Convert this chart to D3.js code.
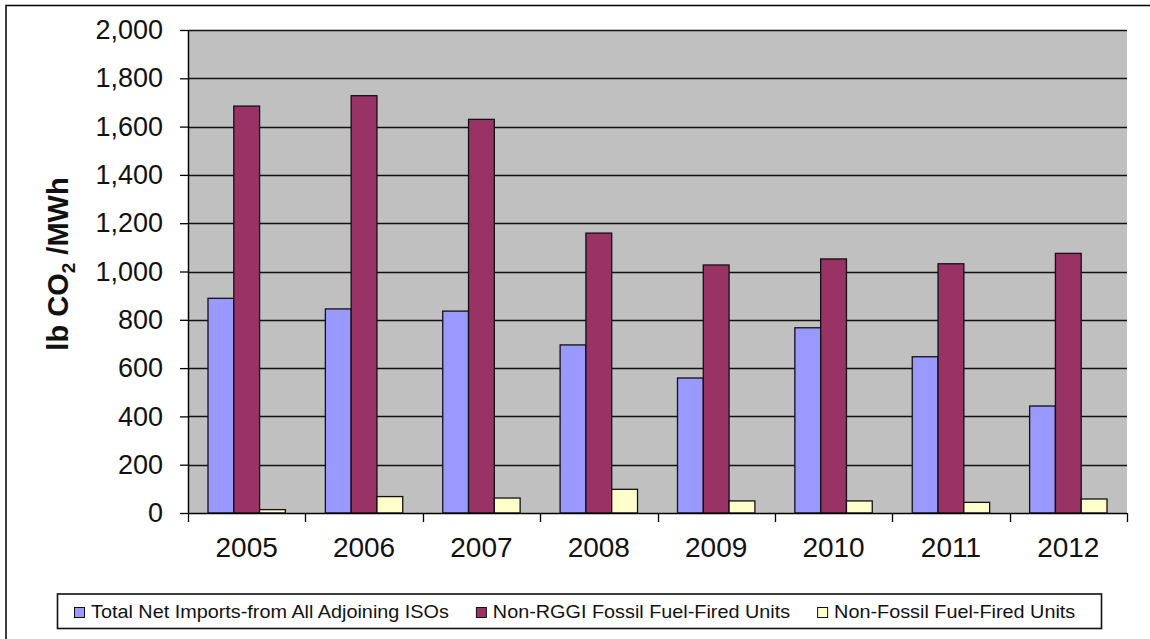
<!DOCTYPE html>
<html>
<head>
<meta charset="utf-8">
<script src="https://cdn.jsdelivr.net/npm/d3@7"></script>
<style>
  html, body { margin: 0; padding: 0; background: #fff; }
  svg { display: block; font-family: "Liberation Sans", Arial, sans-serif; }
</style>
</head>
<body>
<svg id="chart" width="1150" height="639"></svg>
<script>
// Emission rates by year (lb CO2 / MWh)
const years = ["2005", "2006", "2007", "2008", "2009", "2010", "2011", "2012"];
const seriesNames = [
  "Total Net Imports-from All Adjoining ISOs",
  "Non-RGGI Fossil Fuel-Fired Units",
  "Non-Fossil Fuel-Fired Units"
];
const netImports = [889, 845, 836, 696, 559, 767, 647, 443];
const nonRggiFossil = [1685, 1728, 1630, 1159, 1027, 1052, 1032, 1075];
const nonFossil = [14, 68, 62, 98, 50, 50, 44, 58];
const yTicks = [0, 200, 400, 600, 800, 1000, 1200, 1400, 1600, 1800, 2000];
const colors = ["#9999FF", "#993366", "#FFFFCC"];

const seriesValues = [netImports, nonRggiFossil, nonFossil];
const rows = years.map((yr, i) => ({
  year: yr,
  values: seriesNames.map((s, k) => ({ series: s, value: seriesValues[k][i], color: colors[k] }))
}));

const svg = d3.select("#chart");

// outer chart frame
svg.append("rect")
  .attr("x", 6).attr("y", 5.5)
  .attr("width", 1200).attr("height", 700)
  .attr("fill", "none").attr("stroke", "#000").attr("stroke-width", 1.5);

const plot = { left: 188, right: 1127, top: 30, bottom: 513 };

const x0 = d3.scaleBand().domain(years).range([plot.left, plot.right]).padding(0);
const x1 = d3.scaleBand().domain(seriesNames).range([0, x0.bandwidth()])
  .paddingInner(0).paddingOuter(0.775);
const y = d3.scaleLinear().domain([0, 2000]).range([plot.bottom, plot.top]);

// plot background
svg.append("rect")
  .attr("x", plot.left).attr("y", plot.top)
  .attr("width", plot.right - plot.left).attr("height", plot.bottom - plot.top)
  .attr("fill", "#C0C0C0");

// horizontal gridlines
svg.append("g").selectAll("line")
  .data(yTicks.filter(d => d > 0))
  .join("line")
  .attr("x1", plot.left).attr("x2", plot.right)
  .attr("y1", d => Math.round(y(d)) + 0.5).attr("y2", d => Math.round(y(d)) + 0.5)
  .attr("stroke", "#111").attr("stroke-width", 1.4);

// bars
const groups = svg.append("g").selectAll("g")
  .data(rows)
  .join("g")
  .attr("transform", d => `translate(${x0(d.year)},0)`);

groups.selectAll("rect")
  .data(d => d.values)
  .join("rect")
  .attr("x", d => x1(d.series))
  .attr("y", d => y(d.value))
  .attr("width", x1.bandwidth())
  .attr("height", d => y(0) - y(d.value))
  .attr("fill", d => d.color)
  .attr("stroke", "#111")
  .attr("stroke-width", 1.3);

// y axis
const yAxis = svg.append("g")
  .attr("transform", `translate(${plot.left},0)`)
  .call(d3.axisLeft(y).tickValues(yTicks).tickSize(8).tickPadding(17)
    .tickFormat(d3.format(",")));
yAxis.select(".domain").attr("stroke", "#000").attr("stroke-width", 1.5)
  .attr("d", `M0.5,${plot.top}V${plot.bottom}`);
yAxis.selectAll(".tick line").attr("stroke", "#000").attr("stroke-width", 1.3);
yAxis.selectAll(".tick text")
  .attr("font-size", 27).attr("fill", "#111")
  .attr("font-family", "'Liberation Sans', Arial, sans-serif");

// x axis: ticks between the year groups
svg.append("line")
  .attr("x1", plot.left).attr("x2", plot.right)
  .attr("y1", plot.bottom + 0.5).attr("y2", plot.bottom + 0.5)
  .attr("stroke", "#000").attr("stroke-width", 1.5);

const boundaries = years.map(yr => x0(yr)).concat([x0(years[years.length - 1]) + x0.bandwidth()]);
svg.append("g").selectAll("line")
  .data(boundaries)
  .join("line")
  .attr("x1", d => Math.round(d) + 0.5).attr("x2", d => Math.round(d) + 0.5)
  .attr("y1", plot.bottom).attr("y2", plot.bottom + 9)
  .attr("stroke", "#000").attr("stroke-width", 1.3);

svg.append("g").selectAll("text")
  .data(years)
  .join("text")
  .attr("x", d => x0(d) + x0.bandwidth() / 2)
  .attr("y", 557)
  .attr("text-anchor", "middle")
  .attr("font-size", 28)
  .attr("fill", "#111")
  .text(d => d);

// y axis title with subscript
const title = svg.append("text")
  .attr("transform", "translate(68,264) rotate(-90)")
  .attr("text-anchor", "middle")
  .attr("font-size", 29)
  .attr("font-weight", "bold")
  .attr("fill", "#111");
title.append("tspan").text("lb CO");
title.append("tspan").attr("font-size", 19).attr("dy", 7).text("2");
title.append("tspan").attr("dy", -7).text(" /MWh");

// legend
const legend = svg.append("g");
legend.append("rect")
  .attr("x", 57.5).attr("y", 594)
  .attr("width", 1044).attr("height", 34.5)
  .attr("fill", "#fff").attr("stroke", "#111").attr("stroke-width", 1.6);

let lx = 74;
const stretch = 1.12;
seriesNames.forEach((name, k) => {
  legend.append("rect")
    .attr("x", lx + 0.5).attr("y", 607.5)
    .attr("width", 10).attr("height", 10)
    .attr("fill", colors[k]).attr("stroke", "#111").attr("stroke-width", 1);
  const t = legend.append("text")
    .attr("transform", `translate(${lx + 17},618) scale(${stretch},1)`)
    .attr("font-size", 17.7)
    .attr("fill", "#111")
    .text(name);
  const w = t.node().getComputedTextLength() * stretch;
  lx = lx + 17 + w + 27;
});
</script>
</body>
</html>
